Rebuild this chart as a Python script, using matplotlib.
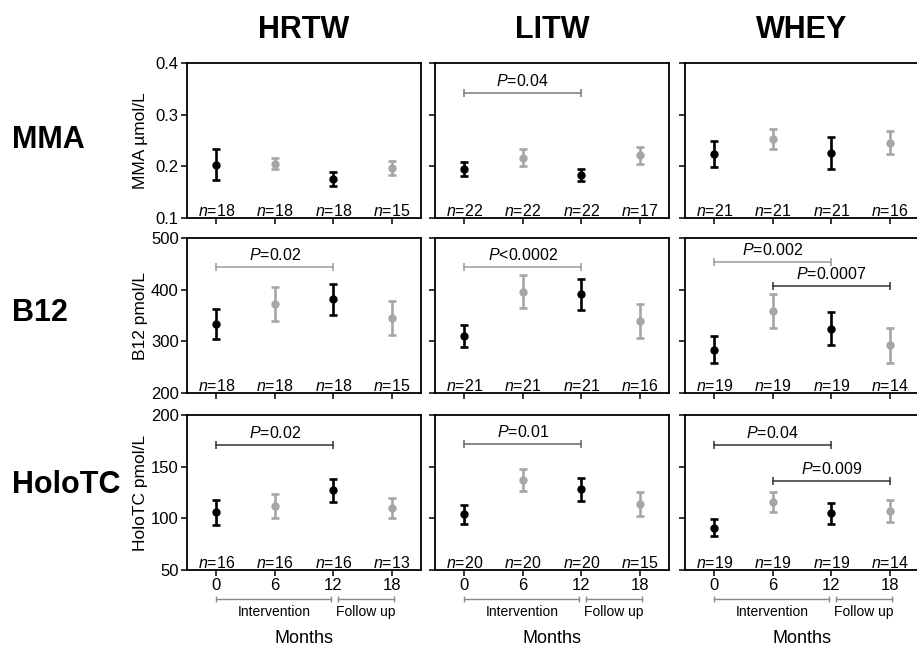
import matplotlib
matplotlib.use("Agg")
import matplotlib.pyplot as plt
import matplotlib.transforms as mtransforms

plt.rcParams['font.family'] = ['Liberation Sans', 'DejaVu Sans']
plt.rcParams['mathtext.fontset'] = 'custom'
plt.rcParams['mathtext.it'] = 'Liberation Sans:italic'
plt.rcParams['mathtext.rm'] = 'Liberation Sans'

# ---------------- data ----------------
months = [0, 6, 12, 18]
groups = ['HRTW', 'LITW', 'WHEY']
markers_rows = ['MMA', 'B12', 'HoloTC']
ylabels = ['MMA \u00b5mol/L', 'B12 pmol/L', 'HoloTC pmol/L']
ylims = [(0.1, 0.4), (200, 500), (50, 200)]
yticks = [[0.1, 0.2, 0.3, 0.4], [200, 300, 400, 500], [50, 100, 150, 200]]

mma_hrtw = [0.203, 0.205, 0.175, 0.197]
mma_hrtw_err = [0.030, 0.011, 0.014, 0.013]
mma_litw = [0.195, 0.217, 0.183, 0.221]
mma_litw_err = [0.013, 0.017, 0.011, 0.017]
mma_whey = [0.224, 0.253, 0.226, 0.246]
mma_whey_err = [0.026, 0.020, 0.031, 0.023]

b12_hrtw = [334, 373, 381, 345]
b12_hrtw_err = [29, 33, 30, 33]
b12_litw = [311, 396, 391, 339]
b12_litw_err = [21, 32, 30, 33]
b12_whey = [284, 359, 324, 292]
b12_whey_err = [26, 33, 32, 33]

holotc_hrtw = [106, 112, 127, 110]
holotc_hrtw_err = [12, 11.5, 11, 10]
holotc_litw = [104, 137, 128, 114]
holotc_litw_err = [9, 10.5, 11, 11.5]
holotc_whey = [91, 116, 105, 107]
holotc_whey_err = [8, 9.5, 10, 11]

n_mma = [[18, 18, 18, 15], [22, 22, 22, 17], [21, 21, 21, 16]]
n_b12 = [[18, 18, 18, 15], [21, 21, 21, 16], [19, 19, 19, 14]]
n_holotc = [[16, 16, 16, 13], [20, 20, 20, 15], [19, 19, 19, 14]]

# (row, col, x start, x end, y, text)
p_brackets = [
    (0, 1, 0, 12, 0.342, '=0.04'),
    (1, 0, 0, 12, 444, '=0.02'),
    (1, 1, 0, 12, 444, '<0.0002'),
    (1, 2, 0, 12, 453, '=0.002'),
    (1, 2, 6, 18, 407, '=0.0007'),
    (2, 0, 0, 12, 171, '=0.02'),
    (2, 1, 0, 12, 172, '=0.01'),
    (2, 2, 0, 12, 171, '=0.04'),
    (2, 2, 6, 18, 136, '=0.009'),
]
bracket_colors = ['#7a7a7a', '#9a9a9a', '#9a9a9a', '#9a9a9a', '#333333',
                  '#333333', '#666666', '#333333', '#333333']

means = [[mma_hrtw, mma_litw, mma_whey],
         [b12_hrtw, b12_litw, b12_whey],
         [holotc_hrtw, holotc_litw, holotc_whey]]
errs = [[mma_hrtw_err, mma_litw_err, mma_whey_err],
        [b12_hrtw_err, b12_litw_err, b12_whey_err],
        [holotc_hrtw_err, holotc_litw_err, holotc_whey_err]]
ns = [n_mma, n_b12, n_holotc]

point_colors = ['black', '#a6a6a6', 'black', '#a6a6a6']

# ---------------- layout ----------------
W, H = 917, 646
fig = plt.figure(figsize=(W / 100, H / 100), dpi=100)

col_left = [187, 435, 685]
col_w = 234
row_top = [63, 238, 415]
row_h = 155

axes = []
for r in range(3):
    row_axes = []
    for c in range(3):
        ax = fig.add_axes([col_left[c] / W, 1 - (row_top[r] + row_h) / H,
                           col_w / W, row_h / H])
        row_axes.append(ax)
    axes.append(row_axes)

for r in range(3):
    for c in range(3):
        ax = axes[r][c]
        tr = mtransforms.blended_transform_factory(ax.transData, ax.transAxes)
        for i, m in enumerate(months):
            ax.errorbar(m, means[r][c][i], yerr=errs[r][c][i], fmt='o',
                        color=point_colors[i], ms=5, elinewidth=1.9,
                        capsize=2.8, capthick=1.9)
            ax.text(m, 0.015, '$n$=%d' % ns[r][c][i], transform=tr,
                    ha='center', va='baseline', fontsize=11.5)
        ax.set_xlim(-3, 21)
        ax.set_ylim(*ylims[r])
        ax.set_yticks(yticks[r])
        ax.set_xticks(months)
        ax.tick_params(direction='out', length=4, width=1.1, labelsize=12,
                       pad=2)
        for s in ax.spines.values():
            s.set_linewidth(1.3)
        if c > 0:
            ax.set_yticklabels([])
        else:
            ax.set_ylabel(ylabels[r], fontsize=12.5)
            ax.yaxis.set_label_coords(-0.165, 0.5)
        if r < 2:
            ax.set_xticklabels([])

for k, (r, c, x0, x1, y, txt) in enumerate(p_brackets):
    ax = axes[r][c]
    col = bracket_colors[k]
    ax.plot([x0, x1], [y, y], color=col, lw=1.1, marker='|', ms=6, mew=1.1)
    ax.annotate('$P$' + txt, xy=((x0 + x1) / 2, y), xytext=(0, 3),
                textcoords='offset points', ha='center', va='bottom',
                fontsize=11.5)

# bottom annotations
for c in range(3):
    ax = axes[2][c]
    tr = mtransforms.blended_transform_factory(ax.transData, ax.transAxes)
    ax.plot([0, 11.8], [-0.187, -0.187], transform=tr, clip_on=False,
            color='#8a8a8a', lw=1, marker='|', ms=4, mew=1)
    ax.plot([12.5, 18.2], [-0.187, -0.187], transform=tr, clip_on=False,
            color='#8a8a8a', lw=1, marker='|', ms=4, mew=1)
    ax.text(5.9, -0.27, 'Intervention', transform=tr, ha='center',
            va='center', fontsize=10)
    ax.text(15.3, -0.27, 'Follow up', transform=tr, ha='center',
            va='center', fontsize=10)
    ax.text(0.5, -0.44, 'Months', transform=ax.transAxes, ha='center',
            va='center', fontsize=13)

# column and row titles
for c, g in enumerate(groups):
    fig.text((col_left[c] + col_w / 2) / W, 1 - 30 / H, g, ha='center',
             va='center', fontsize=22, fontweight='bold')
row_label_y = [140, 313, 485]
for r, name in enumerate(markers_rows):
    fig.text(12 / W, 1 - row_label_y[r] / H, name, ha='left', va='center',
             fontsize=22, fontweight='bold')

fig.savefig('out.png', dpi=100)
